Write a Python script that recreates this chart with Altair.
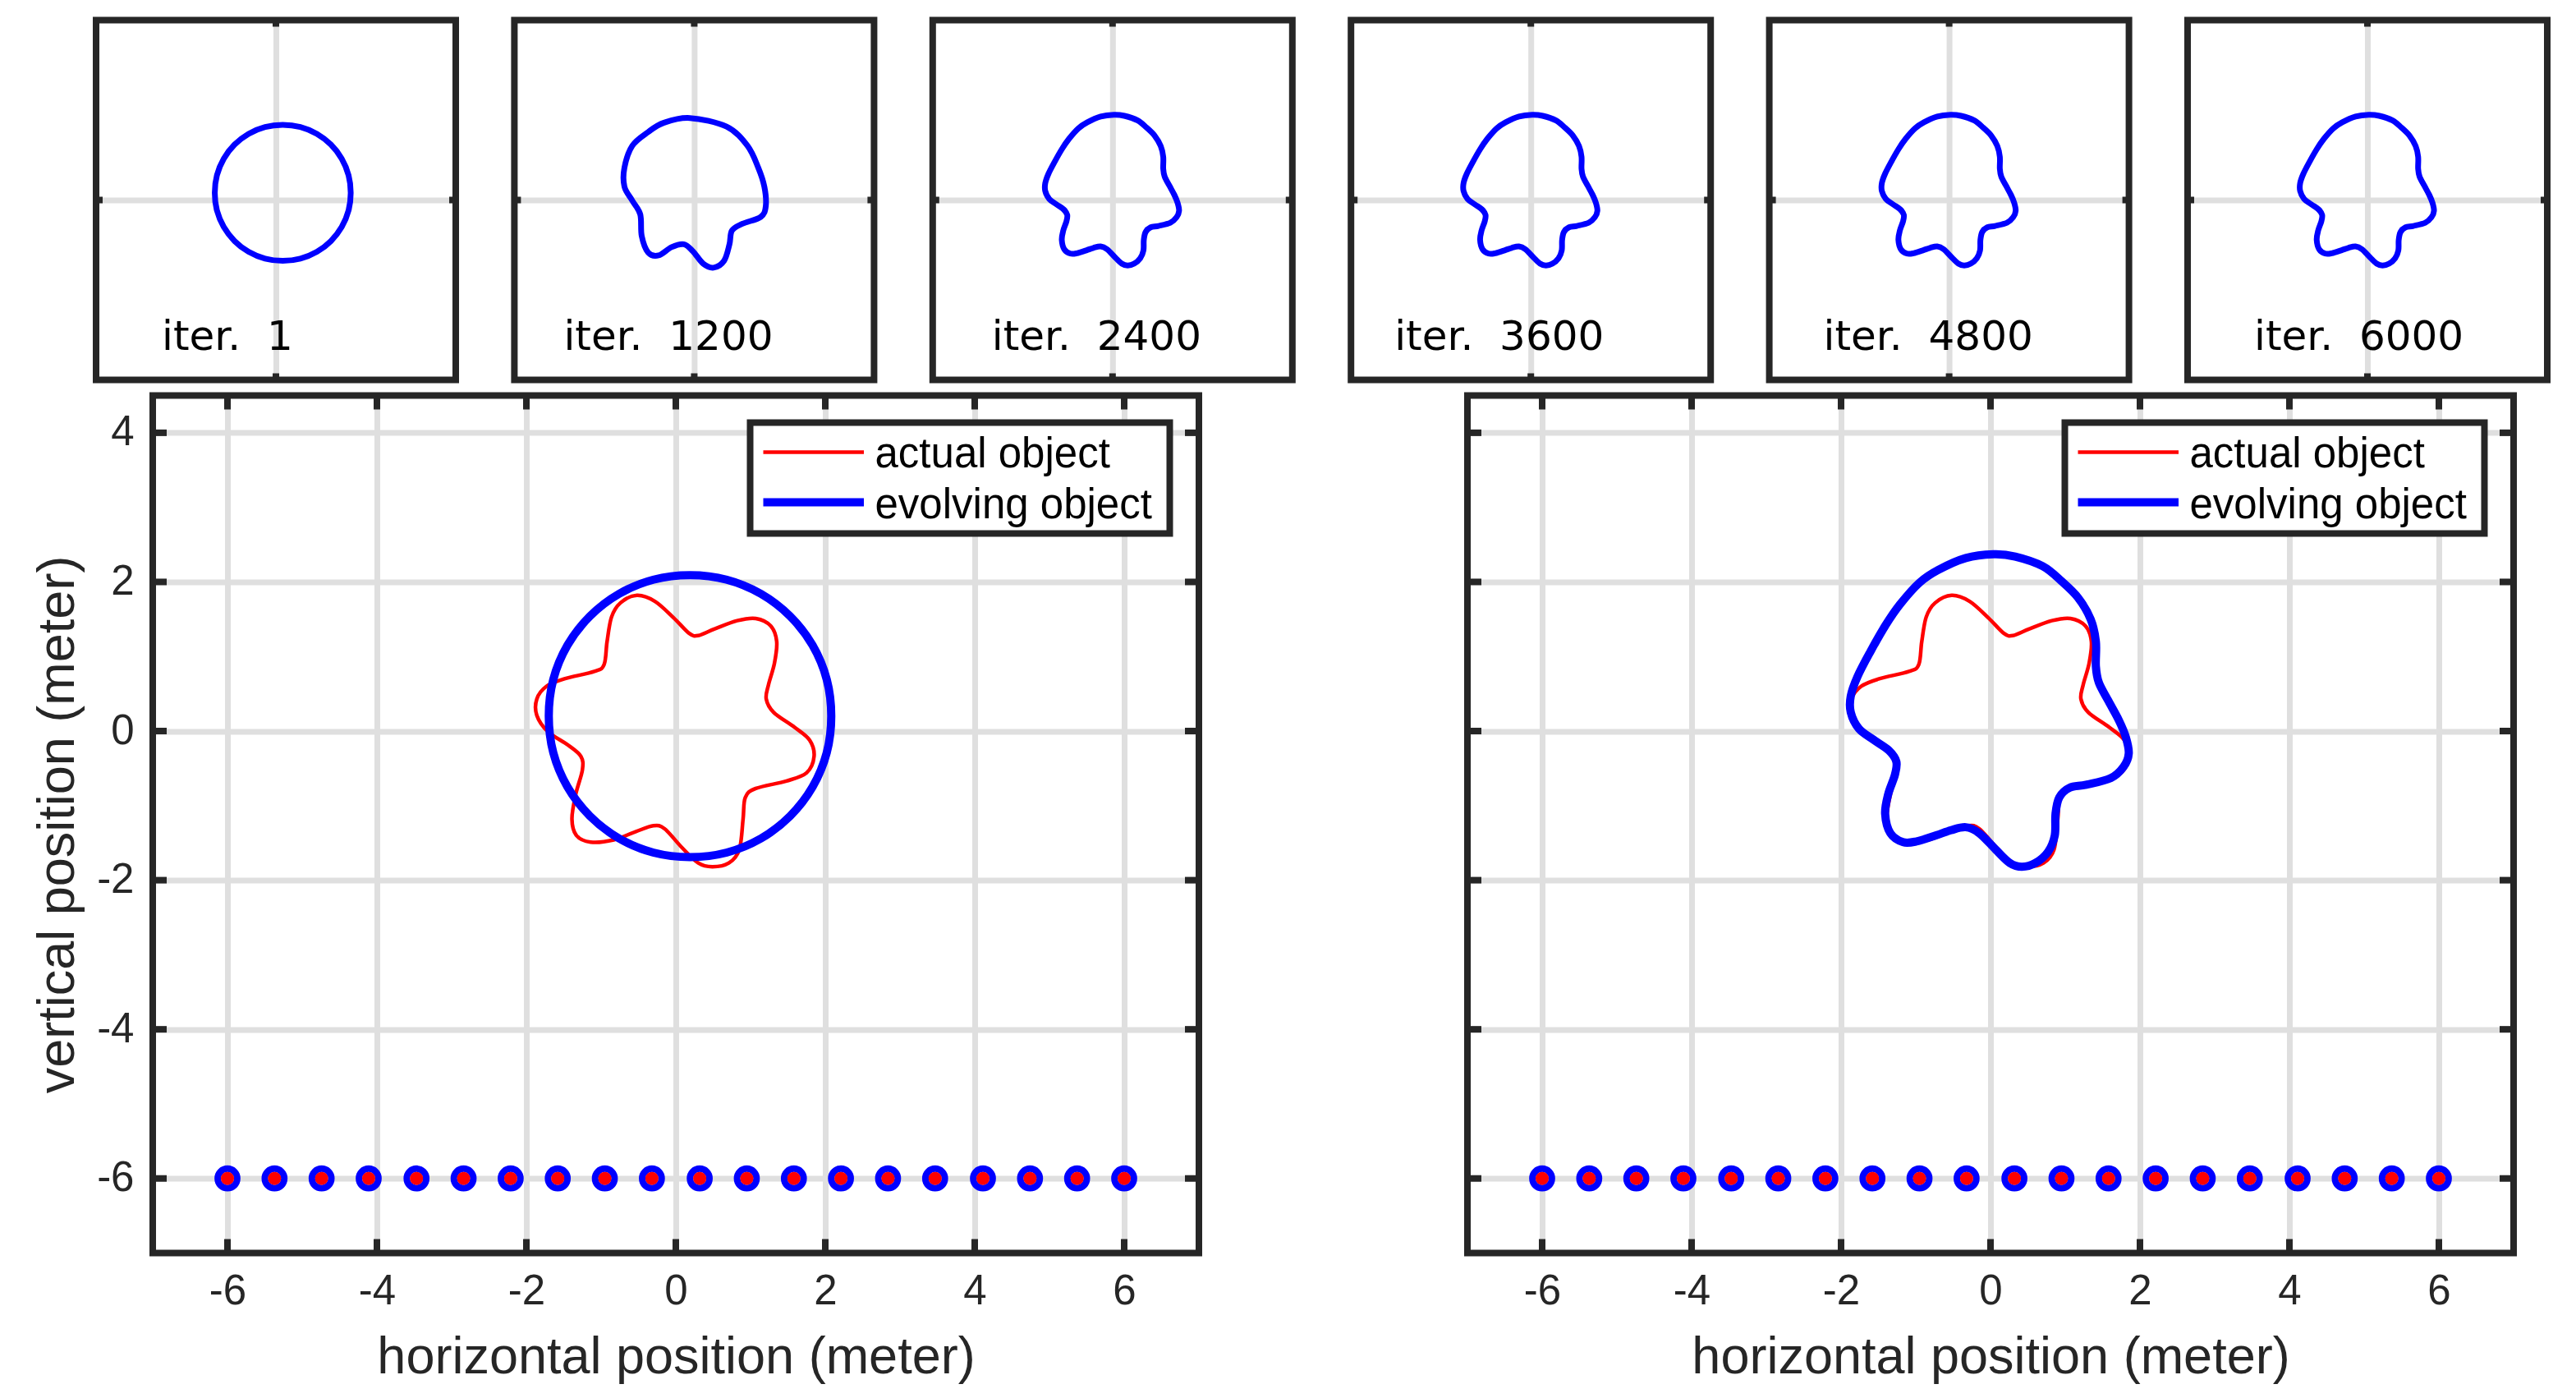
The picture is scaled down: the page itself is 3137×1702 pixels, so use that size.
import altair as alt
import pandas as pd

# ------------------------------------------------------------------ data
ITERATIONS = [1, 1200, 2400, 3600, 4800, 6000]

SENSOR_X = [-6.00, -5.37, -4.74, -4.11, -3.47, -2.84, -2.21, -1.58, -0.95, -0.32,
            0.32, 0.95, 1.58, 2.21, 2.84, 3.47, 4.11, 4.74, 5.37, 6.00]
SENSOR_Y = [-6.0, -6.0, -6.0, -6.0, -6.0, -6.0, -6.0, -6.0, -6.0, -6.0,
            -6.0, -6.0, -6.0, -6.0, -6.0, -6.0, -6.0, -6.0, -6.0, -6.0]

# actual (true) object contour
ACTUAL_X = [-0.52, -0.28, -0.03, 0.18, 0.30, 0.52, 0.82, 1.07, 1.27, 1.35, 1.32, 1.24,
            1.21, 1.31, 1.59, 1.79, 1.85, 1.75, 1.48, 1.07, 0.93, 0.90, 0.85, 0.71,
            0.49, 0.30, 0.07, -0.15, -0.30, -0.54, -0.83, -1.14, -1.33, -1.39, -1.34, -1.25,
            -1.27, -1.44, -1.71, -1.86, -1.86, -1.73, -1.49, -1.09, -0.96, -0.92, -0.86, -0.74]
ACTUAL_Y = [1.82, 1.74, 1.52, 1.31, 1.28, 1.37, 1.48, 1.51, 1.41, 1.20, 0.91, 0.62,
            0.43, 0.25, 0.05, -0.12, -0.34, -0.56, -0.67, -0.77, -0.89, -1.18, -1.59, -1.77,
            -1.82, -1.77, -1.55, -1.31, -1.27, -1.35, -1.46, -1.49, -1.40, -1.18, -0.85, -0.52,
            -0.34, -0.19, -0.01, 0.21, 0.43, 0.60, 0.70, 0.80, 0.89, 1.20, 1.53, 1.72]

# evolving object at iteration 1 (initial circle)
CIRCLE_X = [2.08, 2.02, 1.83, 1.53, 1.14, 0.68, 0.19, -0.30, -0.76, -1.15, -1.45, -1.64,
            -1.70, -1.64, -1.45, -1.15, -0.76, -0.30, 0.19, 0.68, 1.14, 1.53, 1.83, 2.02]
CIRCLE_Y = [0.20, 0.69, 1.15, 1.54, 1.84, 2.03, 2.09, 2.03, 1.84, 1.54, 1.15, 0.69,
            0.20, -0.29, -0.75, -1.14, -1.44, -1.63, -1.69, -1.63, -1.44, -1.14, -0.75, -0.29]

# evolving object at iteration 1200
ITER1200_X = [-0.12, 0.90, 1.48, 1.78, 1.95, 1.99, 1.85, 1.34, 1.05, 0.98, 0.83, 0.54, 0.25,
              -0.04, -0.29, -0.63, -0.99, -1.28, -1.46, -1.50, -1.72, -1.94, -1.94, -1.72,
              -1.28, -0.84]
ITER1200_Y = [2.28, 2.04, 1.51, 0.90, 0.37, -0.17, -0.47, -0.66, -0.85, -1.23, -1.69, -1.88,
              -1.77, -1.42, -1.23, -1.31, -1.54, -1.46, -1.00, -0.40, -0.02, 0.37, 0.90, 1.51,
              1.89, 2.15]

# evolving object at the final iteration
FINAL_X = [0.04, 0.33, 0.70, 0.95, 1.17, 1.34, 1.41, 1.41, 1.45, 1.58, 1.72, 1.81,
           1.85, 1.78, 1.61, 1.28, 1.06, 0.92, 0.87, 0.86, 0.77, 0.60, 0.42, 0.26,
           0.07, -0.15, -0.33, -0.53, -0.73, -0.99, -1.17, -1.34, -1.41, -1.37, -1.28, -1.26,
           -1.36, -1.56, -1.76, -1.87, -1.87, -1.78, -1.61, -1.41, -1.21, -0.95, -0.70, -0.33]
FINAL_Y = [2.37, 2.34, 2.21, 2.01, 1.79, 1.50, 1.20, 0.87, 0.65, 0.40, 0.14, -0.08,
           -0.30, -0.48, -0.63, -0.72, -0.76, -0.89, -1.11, -1.40, -1.62, -1.77, -1.82, -1.77,
           -1.59, -1.37, -1.29, -1.33, -1.40, -1.48, -1.49, -1.37, -1.11, -0.85, -0.59, -0.41,
           -0.26, -0.12, 0.03, 0.25, 0.47, 0.73, 1.06, 1.41, 1.70, 1.99, 2.16, 2.32]

SMALL_SHAPES = [(CIRCLE_X, CIRCLE_Y), (ITER1200_X, ITER1200_Y), (FINAL_X, FINAL_Y),
                (FINAL_X, FINAL_Y), (FINAL_X, FINAL_Y), (FINAL_X, FINAL_Y)]

X_TICKS = [-6, -4, -2, 0, 2, 4, 6]
Y_TICKS = [4, 2, 0, -2, -4, -6]
LEGEND_LABELS = ["actual object", "evolving object"]
RED = "#ff0000"
BLUE = "#0000ff"

# ------------------------------------------------------------------ layout / style
DARK = "#262626"
GRID = "#dfdfdf"
FONT = "Liberation Sans"
BIG_W, BIG_H = 1274, 1044
SMALL = 438
FRAME_W = 8
LABEL_DX = [80, 60, 72, 53, 66, 81]

MINUS = "datum.value < 0 ? '-' + abs(datum.value) : '' + datum.value"
NO_VIEW = alt.ViewBackground(stroke="transparent", strokeWidth=0, strokeOpacity=0,
                             fill="transparent", fillOpacity=0)


def one_row():
    return pd.DataFrame({"k": [0]})


def contour(xs, ys):
    return pd.DataFrame({"x": xs, "y": ys, "i": list(range(len(xs)))})


def frame_layer(w, h):
    return alt.Chart(one_row()).mark_rect(
        fillOpacity=0, stroke=DARK, strokeWidth=FRAME_W
    ).encode(x=alt.value(0), x2=alt.value(w), y=alt.value(0), y2=alt.value(h))


def tick_layers(xvals, yvals, X, Y, w, h, length):
    xdf = pd.DataFrame({"x": xvals})
    ydf = pd.DataFrame({"y": yvals})
    base = dict(color=DARK, strokeWidth=FRAME_W)
    return [
        alt.Chart(xdf).mark_rule(**base).encode(x=X, y=alt.value(h), y2=alt.value(h - length)),
        alt.Chart(xdf).mark_rule(**base).encode(x=X, y=alt.value(0), y2=alt.value(length)),
        alt.Chart(ydf).mark_rule(**base).encode(y=Y, x=alt.value(0), x2=alt.value(length)),
        alt.Chart(ydf).mark_rule(**base).encode(y=Y, x=alt.value(w), x2=alt.value(w - length)),
    ]


def big_panel(blue_x, blue_y, show_y):
    xs = alt.Scale(domain=[-7, 7], nice=False, zero=False)
    ys = alt.Scale(domain=[-7, 4.5], nice=False, zero=False)
    common = dict(ticks=False, domain=False, grid=True, gridColor=GRID, gridWidth=7,
                  labelFont=FONT, labelFontSize=51, labelColor=DARK,
                  titleFont=FONT, titleFontSize=63, titleFontWeight="normal",
                  titleColor=DARK, labelExpr=MINUS)
    xa = alt.Axis(values=X_TICKS, title="horizontal position (meter)",
                  labelPadding=22, titlePadding=24, **common)
    if show_y:
        ya = alt.Axis(values=Y_TICKS, title="vertical position (meter)",
                      labelPadding=23, titlePadding=15, **common)
    else:
        ya = alt.Axis(values=Y_TICKS, title=None, labels=False, **common)
    X = alt.X("x:Q", scale=xs, axis=xa)
    Y = alt.Y("y:Q", scale=ys, axis=ya)

    red = alt.Chart(contour(ACTUAL_X, ACTUAL_Y)).mark_line(
        color=RED, strokeWidth=4.5, interpolate="cardinal-closed"
    ).encode(x=X, y=Y, order="i:Q")
    blue = alt.Chart(contour(blue_x, blue_y)).mark_line(
        color=BLUE, strokeWidth=10, interpolate="cardinal-closed"
    ).encode(x=X, y=Y, order="i:Q")
    sensors = pd.DataFrame({"x": SENSOR_X, "y": SENSOR_Y})
    rings = alt.Chart(sensors).mark_point(
        shape="circle", filled=False, color=BLUE, strokeWidth=8, size=562, opacity=1
    ).encode(x=X, y=Y)
    dots = alt.Chart(sensors).mark_point(
        shape="circle", filled=True, color=RED, size=256, opacity=1
    ).encode(x=X, y=Y)

    legend_box = alt.Chart(one_row()).mark_rect(
        fill="white", stroke=DARK, strokeWidth=FRAME_W
    ).encode(x=alt.value(727.5), x2=alt.value(1238.5), y=alt.value(33), y2=alt.value(168))
    legend_items = []
    for label, col, sw, ly, ty in [(LEGEND_LABELS[0], RED, 4.7, 69, 87),
                                    (LEGEND_LABELS[1], BLUE, 10, 130, 149)]:
        legend_items.append(alt.Chart(one_row()).mark_rule(color=col, strokeWidth=sw).encode(
            x=alt.value(743.5), x2=alt.value(866), y=alt.value(ly)))
        legend_items.append(alt.Chart(one_row()).mark_text(
            align="left", baseline="alphabetic", font=FONT, fontSize=51, color="black"
        ).encode(x=alt.value(879.5), y=alt.value(ty), text=alt.value(label)))

    layers = [red, blue, rings, dots] + tick_layers(X_TICKS, Y_TICKS, X, Y, BIG_W, BIG_H, 17) \
        + [frame_layer(BIG_W, BIG_H), legend_box] + legend_items
    return alt.layer(*layers).properties(width=BIG_W, height=BIG_H, view=NO_VIEW)


def small_panel(k):
    sx, sy = SMALL_SHAPES[k]
    sc = alt.Scale(domain=[-5, 5], nice=False, zero=False)
    ax = alt.Axis(values=[0], labels=False, ticks=False, domain=False, grid=True,
                  gridColor=GRID, gridWidth=7, title=None)
    X = alt.X("x:Q", scale=sc, axis=ax)
    Y = alt.Y("y:Q", scale=sc, axis=ax)
    line = alt.Chart(contour(sx, sy)).mark_line(
        color=BLUE, strokeWidth=7, interpolate="cardinal-closed"
    ).encode(x=X, y=Y, order="i:Q")
    label = alt.Chart(one_row()).mark_text(
        align="left", baseline="alphabetic", font="DejaVu Sans", fontSize=50, color="black"
    ).encode(x=alt.value(LABEL_DX[k]), y=alt.value(401.5),
             text=alt.value(f"iter.\u00a0 {ITERATIONS[k]}"))
    layers = [line] + tick_layers([0], [0], X, Y, SMALL, SMALL, 8) + [frame_layer(SMALL, SMALL), label]
    return alt.layer(*layers).properties(width=SMALL, height=SMALL, view=NO_VIEW)


def spacer(w, h):
    return alt.Chart(one_row()).mark_point(opacity=0, size=1).encode(
        x=alt.value(0), y=alt.value(0)).properties(width=w, height=h, view=NO_VIEW)


top = alt.hconcat(*[small_panel(k) for k in range(6)], spacing=71.4, bounds="flush")
bottom = alt.hconcat(spacer(68.5, 10), big_panel(CIRCLE_X, CIRCLE_Y, True), spacer(327, 10),
                     big_panel(FINAL_X, FINAL_Y, False), spacing=0, bounds="flush")

chart = alt.vconcat(top, spacer(10, 456.5), bottom, spacing=0, bounds="flush").properties(
    padding={"left": 31, "top": 12.5, "right": 10, "bottom": 10}
).configure(
    font=FONT,
    view=alt.ViewConfig(stroke="transparent", strokeWidth=0, strokeOpacity=0),
    style={"cell": {"stroke": "transparent", "strokeWidth": 0}},
)

chart.save("out.html", embed_options={"renderer": "svg", "actions": False})
